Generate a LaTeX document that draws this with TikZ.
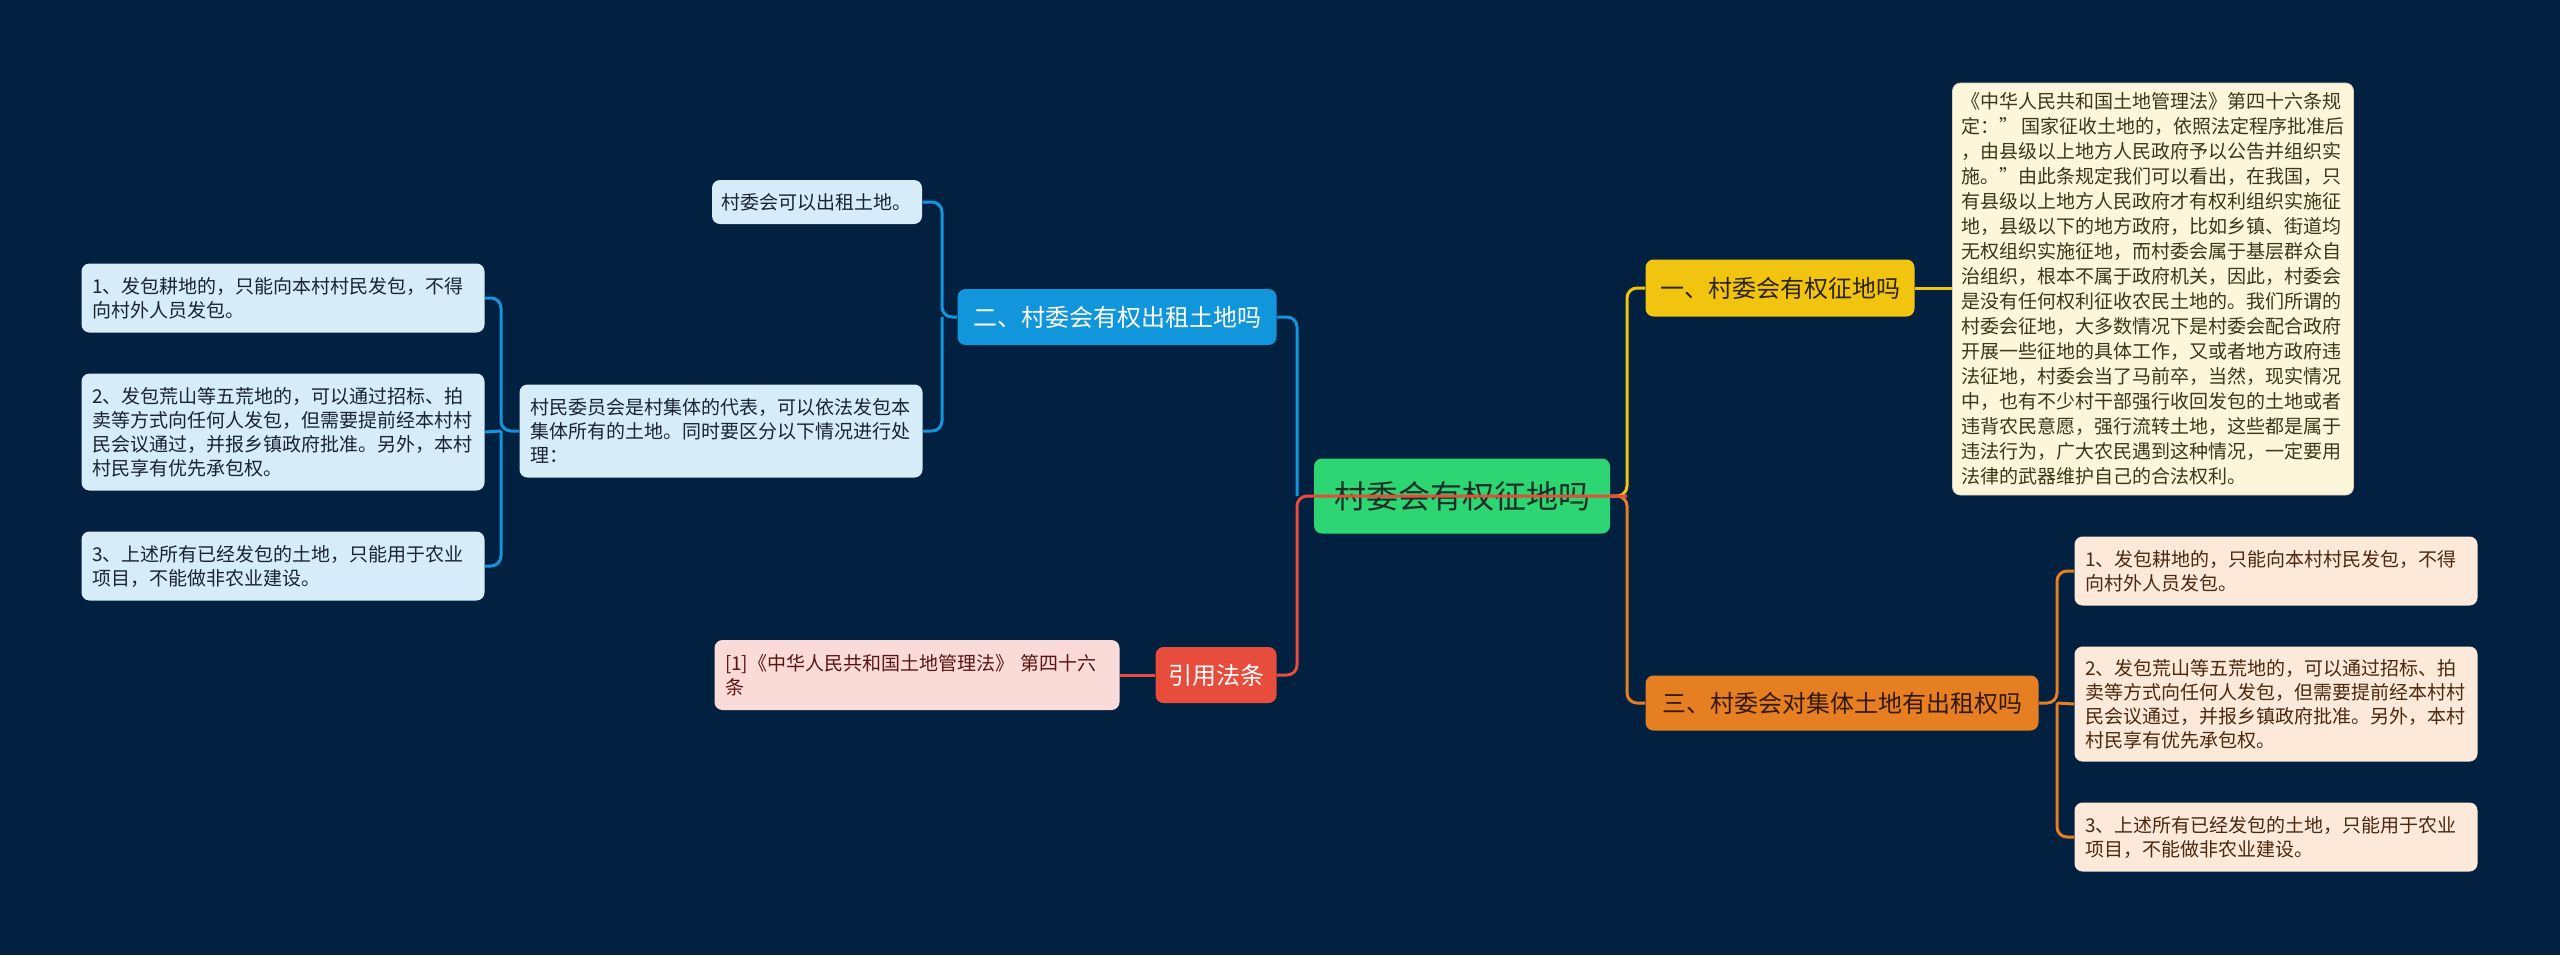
\documentclass[tikz,border=0pt]{standalone}
\usepackage{fontspec}
\setmainfont{Noto Sans CJK SC}
\usepackage{xcolor}
\usetikzlibrary{positioning}

\definecolor{bgnavy}{RGB}{2,33,64}
\definecolor{rootgreen}{RGB}{46,213,115}
\definecolor{ylwmain}{RGB}{241,196,15}
\definecolor{ylwleaf}{RGB}{253,246,219}
\definecolor{orgmain}{RGB}{230,126,34}
\definecolor{orgleaf}{RGB}{252,233,217}
\definecolor{bluemain}{RGB}{18,150,219}
\definecolor{blueleaf}{RGB}{214,236,248}
\definecolor{redmain}{RGB}{231,76,60}
\definecolor{redleaf}{RGB}{250,219,216}

\begin{document}
\begin{tikzpicture}[
    x=0.5pt, y=-0.5pt,
    box/.style={
        rounded corners=4pt,
        align=center,
        inner sep=0pt
    },
    rootbox/.style={
        box,
        fill=rootgreen,
        text={rgb,255:red,28;green,48;blue,38},
        minimum width=148pt,
        minimum height=37.5pt,
        font=\fontsize{16}{19}\selectfont
    },
    topicbox/.style={
        box,
        minimum height=28pt,
        font=\fontsize{12}{14}\selectfont
    },
    leafbox/.style={
        box,
        align=left,
        text width=191pt,
        inner xsep=5.25pt,
        font=\fontsize{9.5}{12}\selectfont
    },
    link/.style={line width=1.5pt, rounded corners=5pt}
]
\fill[bgnavy] (0,0) rectangle (2560,955);

\node[rootbox] (root) at (1462,496) {村委会有权征地吗};

\node[topicbox, fill=ylwmain, text={rgb,255:red,45;green,35;blue,5}, minimum width=134.5pt, minimum height=28.5pt] (zhengdi) at (1780,288) {一、村委会有权征地吗};
\node[leafbox, fill=ylwleaf, draw=ylwleaf!85!black, text={rgb,255:red,60;green,55;blue,25}, text width=192pt, inner xsep=4.25pt, minimum height=206pt, font=\fontsize{9.5}{12.5}\selectfont] (zhengdiA) at (2153,289) {《中华人民共和国土地管理法》第四十六条规\\定：”\kern0.2em国家征收土地的，依照法定程序批准后\\，由县级以上地方人民政府予以公告并组织实\\施。”由此条规定我们可以看出，在我国，只\\有县级以上地方人民政府才有权利组织实施征\\地，县级以下的地方政府，比如乡镇、街道均\\无权组织实施征地，而村委会属于基层群众自\\治组织，根本不属于政府机关，因此，村委会\\是没有任何权利征收农民土地的。我们所谓的\\村委会征地，大多数情况下是村委会配合政府\\开展一些征地的具体工作，又或者地方政府违\\法征地，村委会当了马前卒，当然，现实情况\\中，也有不少村干部强行收回发包的土地或者\\违背农民意愿，强行流转土地，这些都是属于\\违法行为，广大农民遇到这种情况，一定要用\\法律的武器维护自己的合法权利。};

\node[topicbox, fill=orgmain, text={rgb,255:red,50;green,25;blue,5}, minimum width=196.5pt, minimum height=27.5pt] (chuzu) at (1842,703) {三、村委会对集体土地有出租权吗};
\node[leafbox, fill=orgleaf, text={rgb,255:red,75;green,40;blue,15}, minimum height=34.5pt] (chuzuA) at (2276,571) {1、发包耕地的，只能向本村村民发包，不得\\向村外人员发包。};
\node[leafbox, fill=orgleaf, text={rgb,255:red,75;green,40;blue,15}, minimum height=57.5pt] (chuzuB) at (2276,704) {2、发包荒山等五荒地的，可以通过招标、拍\\卖等方式向任何人发包，但需要提前经本村村\\民会议通过，并报乡镇政府批准。另外，本村\\村民享有优先承包权。};
\node[leafbox, fill=orgleaf, text={rgb,255:red,75;green,40;blue,15}, minimum height=34.5pt] (chuzuC) at (2276,837) {3、上述所有已经发包的土地，只能用于农业\\项目，不能做非农业建设。};

\node[topicbox, fill=bluemain, text=white, minimum width=159.5pt] (youquan) at (1117,317) {二、村委会有权出租土地吗};
\node[leafbox, fill=blueleaf, text={rgb,255:red,25;green,35;blue,50}, text width=96pt, inner xsep=4.5pt, minimum height=22pt] (youquanA) at (817,202) {村委会可以出租土地。};
\node[leafbox, fill=blueleaf, text={rgb,255:red,25;green,35;blue,50}, minimum height=46.5pt] (youquanB) at (721,431) {村民委员会是村集体的代表，可以依法发包本\\集体所有的土地。同时要区分以下情况进行处\\理：};
\node[leafbox, fill=blueleaf, text={rgb,255:red,25;green,35;blue,50}, minimum height=34.5pt] (qingkuangA) at (283,298) {1、发包耕地的，只能向本村村民发包，不得\\向村外人员发包。};
\node[leafbox, fill=blueleaf, text={rgb,255:red,25;green,35;blue,50}, minimum height=58.5pt] (qingkuangB) at (283,432) {2、发包荒山等五荒地的，可以通过招标、拍\\卖等方式向任何人发包，但需要提前经本村村\\民会议通过，并报乡镇政府批准。另外，本村\\村民享有优先承包权。};
\node[leafbox, fill=blueleaf, text={rgb,255:red,25;green,35;blue,50}, minimum height=34.5pt] (qingkuangC) at (283,566) {3、上述所有已经发包的土地，只能用于农业\\项目，不能做非农业建设。};

\node[topicbox, fill=redmain, text=white, minimum width=60.5pt] (fatiao) at (1216,675) {引用法条};
\node[leafbox, fill=redleaf, text={rgb,255:red,90;green,20;blue,20}, text width=192pt, minimum height=35pt] (fatiaoA) at (917,675) {[1]《中华人民共和国土地管理法》 第四十六\\条};

\coordinate (jr) at (1627,496);
\coordinate (jl) at (1297,496);
\coordinate (jchuzu) at (2057,703);
\coordinate (jyouquan) at (942,317);
\coordinate (jqing) at (501,431);

\draw[link, ylwmain] (root.east) -- (jr) |- (zhengdi.west);
\draw[link, ylwmain] (zhengdi.east) -- (zhengdi.east -| zhengdiA.west);
\draw[link, orgmain] (root.east) -- (jr) |- (chuzu.west);
\draw[link, orgmain] (chuzu.east) -- (jchuzu) |- (chuzuA.west);
\draw[link, orgmain] (jchuzu) -- (chuzuB.west);
\draw[link, orgmain] (jchuzu) |- (chuzuC.west);
\draw[link, bluemain] (jl) |- (youquan.east);
\draw[link, bluemain] (youquan.west) -- (jyouquan) |- (youquanA.east);
\draw[link, bluemain] (jyouquan) |- (youquanB.east);
\draw[link, bluemain] (youquanB.west) -- (jqing) |- (qingkuangA.east);
\draw[link, bluemain] (jqing) -- (qingkuangB.east);
\draw[link, bluemain] (jqing) |- (qingkuangC.east);
\draw[link, redmain] (jr) -- (jl) |- (fatiao.east);
\draw[link, redmain] (fatiao.west) -- (fatiaoA.east);
\end{tikzpicture}
\end{document}
